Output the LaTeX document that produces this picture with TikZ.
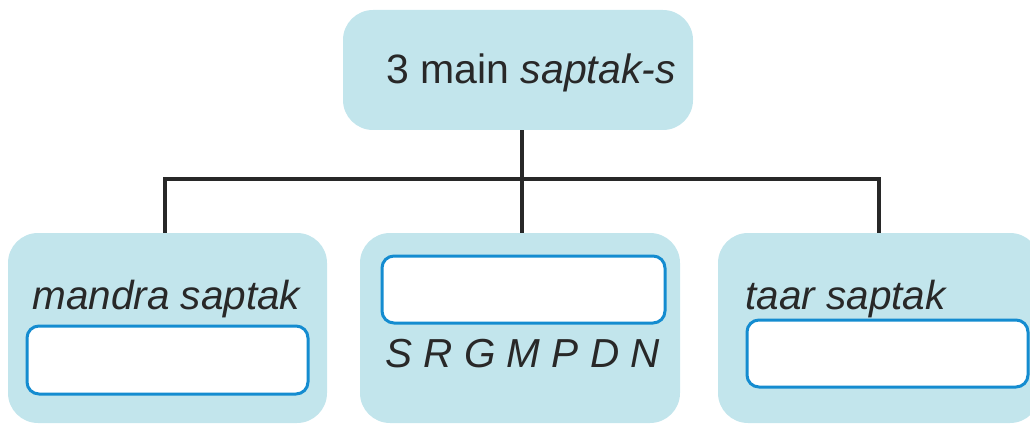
\documentclass[tikz,border=0pt]{standalone}
\usepackage{fontspec}
\setmainfont{Liberation Sans}
\definecolor{panelblue}{RGB}{194,229,236}
\definecolor{rimblue}{RGB}{20,140,208}
\definecolor{inkgray}{RGB}{40,40,40}
\begin{document}
\begin{tikzpicture}[x=1pt,y=-1pt,thick]
		\tikzset{panel/.style = {fill=panelblue, rounded corners=30pt, inner sep=0pt}}
		\tikzset{slot/.style = {draw=rimblue, fill=white, line width=3pt, rounded corners=12pt, inner sep=0pt}}
		\tikzset{label/.style = {text=inkgray, anchor=base west, inner sep=0pt, font=\fontsize{40.5}{48}\selectfont\itshape}}
		\tikzset{edge/.style = {draw=inkgray, line width=3.2pt}}
		
		\useasboundingbox (0,0) rectangle (1030,425);
		\clip (0,0) rectangle (1030,425);
		
		% panels
		\node[panel, minimum width=350pt, minimum height=120pt] (top) at (518,70) {};
		\node[panel, minimum width=319pt, minimum height=190pt] (mandra) at (167.5,328) {};
		\node[panel, minimum width=320pt, minimum height=190pt] (madhya) at (520,328) {};
		\node[panel, minimum width=322pt, minimum height=190pt] (taar) at (879,328) {};
		
		% empty answer slots
		\node[slot, minimum width=281pt, minimum height=68pt] (mandraslot) at (167.5,360) {};
		\node[slot, minimum width=283pt, minimum height=67pt] (madhyaslot) at (523.5,289.5) {};
		\node[slot, minimum width=281pt, minimum height=67pt] (taarslot) at (887.5,353.5) {};
		
		% texts
		\node[label, font=\fontsize{41}{49}\selectfont] (title) at (386,84) {3 main \textit{saptak-s}};
		\node[label] (mandratext) at (32,309) {mandra saptak};
		\node[label] (notes) at (385,367) {S R G M P D N};
		\node[label] (taartext) at (745,309) {taar saptak};
		
		% connectors
		\coordinate (bar) at (522,179);
		\draw[edge] (top.south -| bar) -- (madhya.north -| bar);
		\draw[edge] (mandra.north -| 165,0) |- (bar) -| (taar.north);
\end{tikzpicture}
\end{document}
